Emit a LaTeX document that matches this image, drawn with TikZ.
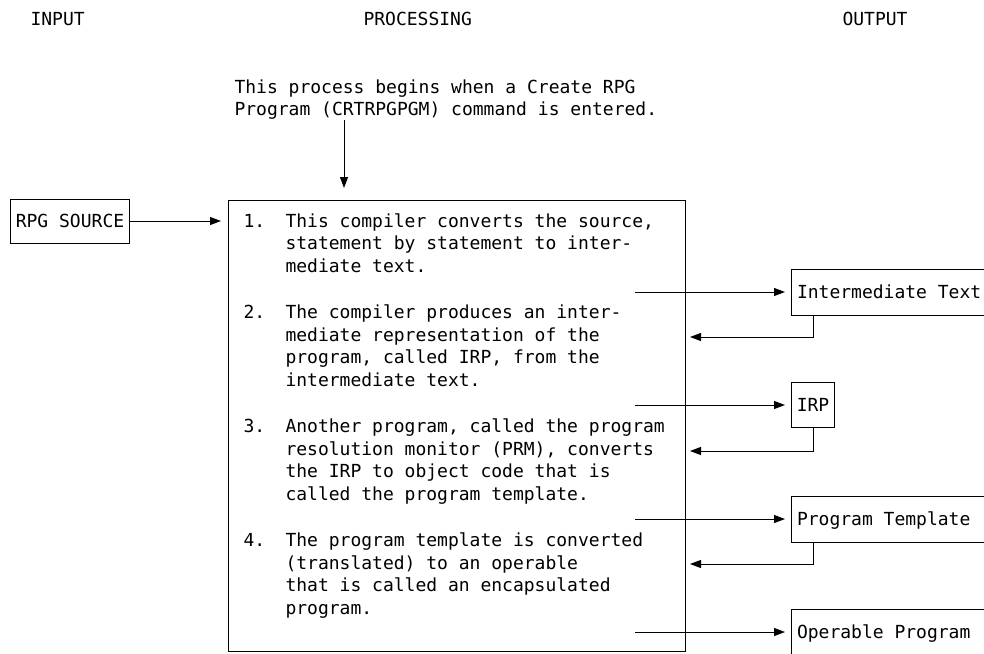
\documentclass[tikz,border=0pt]{standalone}
\usepackage{fontspec}
\setmonofont{DejaVu Sans Mono}
\usetikzlibrary{arrows.meta}
\newcommand\mylines[1]{\begin{tabular}[t]{@{}l@{}}#1\end{tabular}}
\begin{document}
\begin{tikzpicture}[x=1pt,y=-1pt,
  font=\ttfamily\fontsize{18}{22.8}\selectfont,
  line width=1pt,
  arr/.style={-{Triangle[length=11pt,width=8pt]}},
  box/.style={draw, inner sep=0pt, text height=13pt, text depth=0pt},
  lbl/.style={anchor=base west, inner sep=0pt},
  boxtext/.style={anchor=west, inner sep=0pt, text height=13pt, text depth=0pt},
  widebox/.style={draw, anchor=west, minimum height=46pt, minimum width=200pt, inner sep=0pt}]
\useasboundingbox (0,0) rectangle (984,653);

% headers
\node[lbl] (hin)   at (30,25)  {INPUT};
\node[lbl] (hproc) at (363,25) {PROCESSING};
\node[lbl] (hout)  at (842,25) {OUTPUT};

% note
\node[lbl] (note) at (234,93) {\mylines{This process begins when a Create RPG\\
Program (CRTRPGPGM) command is entered.}};

% main processing box
\node[draw, inner sep=0pt, minimum width=457pt, minimum height=451pt,
      anchor=north west] (proc) at (228,200) {};

\coordinate (cmd) at (344,120);
\draw[arr, shorten >=12pt] (cmd) -- (cmd |- proc.north);

% input
\node[box, minimum width=119pt, minimum height=44pt, anchor=west] (src) at (10,221) {RPG SOURCE};
\draw[arr, shorten >=7pt] (src.east) -- (src.east -| proc.west);

% items
\node[lbl] (n1) at (243,227)   {1.};
\node[lbl] (t1) at (285,227)   {\mylines{This compiler converts the source,\\
statement by statement to inter-\\
mediate text.}};
\node[lbl] (n2) at (243,318.2) {2.};
\node[lbl] (t2) at (285,318.2) {\mylines{The compiler produces an inter-\\
mediate representation of the\\
program, called IRP, from the\\
intermediate text.}};
\node[lbl] (n3) at (243,432.2) {3.};
\node[lbl] (t3) at (285,432.2) {\mylines{Another program, called the program\\
resolution monitor (PRM), converts\\
the IRP to object code that is\\
called the program template.}};
\node[lbl] (n4) at (243,546.2) {4.};
\node[lbl] (t4) at (285,546.2) {\mylines{The program template is converted\\
(translated) to an operable\\
that is called an encapsulated\\
program.}};

% outputs
\node[widebox] (it) at (791,292) {};
\node[boxtext] (itl) at ([xshift=5.5pt]it.west) {Intermediate Text};
\node[box, anchor=west, minimum height=45pt, minimum width=43pt] (irp) at (791,405) {IRP};
\node[widebox] (pt) at (791,519) {};
\node[boxtext] (ptl) at ([xshift=5.5pt]pt.west) {Program Template};
\node[widebox] (op) at (791,632) {};
\node[boxtext] (opl) at ([xshift=5.5pt]op.west) {Operable Program};

% forward arrows
\coordinate (a1) at (635,292);
\coordinate (a2) at (635,405);
\coordinate (a3) at (635,519);
\coordinate (a4) at (635,632);
\draw[arr, shorten >=6pt] (a1) -- (it.west);
\draw[arr, shorten >=6pt] (a2) -- (irp.west);
\draw[arr, shorten >=6pt] (a3) -- (pt.west);
\draw[arr, shorten >=6pt] (a4) -- (op.west);

% return arrows
\coordinate (b1) at (690,337);
\coordinate (b2) at (690,451);
\coordinate (b3) at (690,564);
\draw[arr] ([xshift=22pt]it.south west) |- (b1);
\draw[arr] ([xshift=22pt]irp.south west) |- (b2);
\draw[arr] ([xshift=22pt]pt.south west) |- (b3);
\end{tikzpicture}
\end{document}
